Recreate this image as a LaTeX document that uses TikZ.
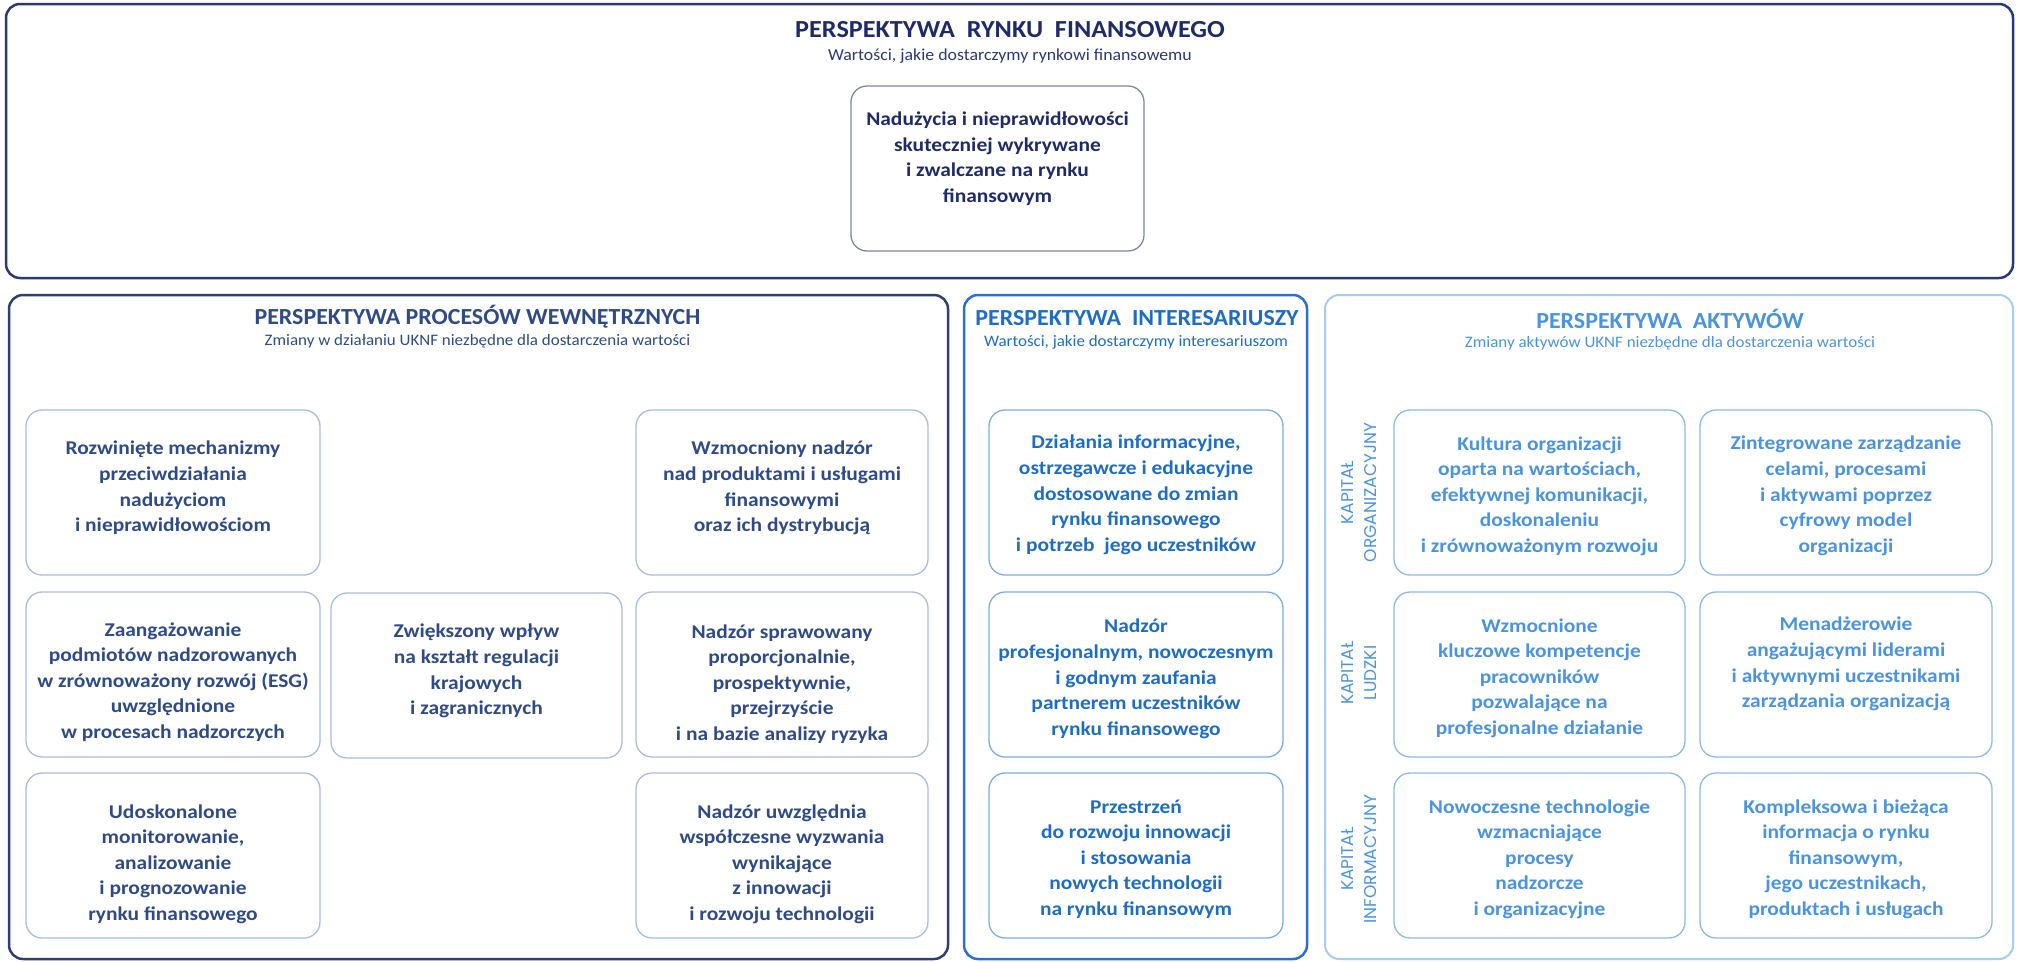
\documentclass[tikz,border=0pt]{standalone}
\usepackage{fontspec}
\setmainfont{Carlito}
\newfontfamily\boxfont{Carlito}[FakeStretch=1.1]
\newfontfamily\ttlfont{Carlito}[FakeStretch=1.04]
\newfontfamily\topttlfont{Carlito}[FakeStretch=1.07]
\newfontfamily\subfont{Carlito}[FakeStretch=1.06]
\newfontfamily\kapfont{Poppins}
\definecolor{navy}{HTML}{1F2A6B}
\definecolor{navyb}{HTML}{2B3878}
\definecolor{proc}{HTML}{2E4A88}
\definecolor{procb}{HTML}{2E3F70}
\definecolor{procl}{HTML}{A9BCDD}
\definecolor{intc}{HTML}{1E6DC4}
\definecolor{intb}{HTML}{2A6FD1}
\definecolor{intl}{HTML}{7EABE4}
\definecolor{akt}{HTML}{4A93E0}
\definecolor{aktb}{HTML}{A8CBF0}
\definecolor{aktl}{HTML}{8DB9EA}
\definecolor{topl}{HTML}{7B86A8}
\tikzset{
  section/.style={draw, rounded corners=14pt, line width=2.5pt},
  box/.style={draw, rounded corners=16pt, line width=1.3pt, inner sep=0pt, minimum height=165pt},
  btext/.style={align=center, inner sep=0pt, font=\boxfont\bfseries\fontsize{19.5}{25.6}\selectfont},
  ttl/.style={font=\ttlfont\bfseries\fontsize{23}{26}\selectfont, inner sep=0pt},
  sub/.style={font=\subfont\fontsize{16}{19}\selectfont, inner sep=0pt},
  kap/.style={font=\kapfont\fontsize{17}{23}\selectfont, rotate=90, align=center, inner sep=0pt, text=akt},
}
% \mkbox{name}{x}{y}{width}{border colour}{text colour}{text centre y}{text}
\newcommand\mkbox[8]{%
  \node[box, draw=#5, minimum width=#4pt] (#1) at (#2,#3) {};
  \node[btext, text=#6] (#1t) at (#2,#7) {#8};
}
\begin{document}
\begin{tikzpicture}[x=1pt,y=-1pt]
\useasboundingbox (0,0) rectangle (2020,961);
% top section
\node[section, draw=navyb, minimum width=2007pt, minimum height=274pt] (top) at (1009.5,141) {};
\node[ttl, font=\topttlfont\bfseries\fontsize{24.5}{28}\selectfont, text=navy] (toptitle) at (1010,30) {PERSPEKTYWA\ \ RYNKU\ \ FINANSOWEGO};
\node[sub, font=\subfont\fontsize{16.8}{19}\selectfont, text=navyb] (topsub) at (1010,56) {Wartości, jakie dostarczymy rynkowi finansowemu};
\mkbox{t1}{997.5}{168.5}{293}{topl}{navy}{158.5}{Nadużycia i nieprawidłowości\\skuteczniej wykrywane\\ i zwalczane na rynku\\finansowym}
% processes
\node[section, draw=procb, minimum width=939pt, minimum height=664pt] (proc) at (478.5,627) {};
\node[ttl, text=proc] (proctitle) at (477.5,317) {PERSPEKTYWA PROCESÓW WEWNĘTRZNYCH};
\node[sub, text=proc] (procsub) at (477.5,341) {Zmiany w działaniu UKNF niezbędne dla dostarczenia wartości};
\mkbox{p1}{173}{492.5}{294}{procl}{proc}{488}{Rozwinięte mechanizmy\\przeciwdziałania\\nadużyciom\\i nieprawidłowościom}
\mkbox{p2}{782}{492.5}{292}{procl}{proc}{488}{Wzmocniony nadzór\\nad produktami i usługami\\finansowymi\\oraz ich dystrybucją}
\mkbox{p3}{173}{674.5}{294}{procl}{proc}{682}{Zaangażowanie\\podmiotów nadzorowanych\\w zrównoważony rozwój (ESG)\\uwzględnione\\w procesach nadzorczych}
\mkbox{p4}{476.5}{675.5}{291}{procl}{proc}{671}{Zwiększony wpływ\\na kształt regulacji\\krajowych\\i zagranicznych}
\mkbox{p5}{782}{674.5}{292}{procl}{proc}{684}{Nadzór sprawowany\\proporcjonalnie,\\prospektywnie,\\przejrzyście\\i na bazie analizy ryzyka}
\mkbox{p6}{173}{855.5}{294}{procl}{proc}{864}{Udoskonalone\\monitorowanie,\\analizowanie\\i prognozowanie\\rynku finansowego}
\mkbox{p7}{782}{855.5}{292}{procl}{proc}{864}{Nadzór uwzględnia\\współczesne wyzwania\\wynikające\\z innowacji\\i rozwoju technologii}
% stakeholders
\node[section, draw=intb, minimum width=343pt, minimum height=664pt] (int) at (1135.5,627) {};
\node[ttl, text=intc] (inttitle) at (1137,318) {PERSPEKTYWA\ \ INTERESARIUSZY};
\node[sub, text=intc] (intsub) at (1136,342) {Wartości, jakie dostarczymy interesariuszom};
\mkbox{i1}{1136}{492.5}{294}{intl}{intc}{495}{Działania informacyjne,\\ostrzegawcze i edukacyjne\\dostosowane do zmian\\rynku finansowego\\i potrzeb\ \ jego uczestników}
\mkbox{i2}{1136}{674.5}{294}{intl}{intc}{679}{Nadzór\\profesjonalnym, nowoczesnym\\i godnym zaufania\\partnerem uczestników\\rynku finansowego}
\mkbox{i3}{1136}{855.5}{294}{intl}{intc}{859}{Przestrzeń\\do rozwoju innowacji\\i stosowania\\nowych technologii\\na rynku finansowym}
% assets
\node[section, draw=aktb, line width=2pt, minimum width=688pt, minimum height=664pt] (akt) at (1669,627) {};
\node[ttl, text=akt] (akttitle) at (1670,319) {PERSPEKTYWA\ \ AKTYWÓW};
\node[sub, text=akt] (aktsub) at (1670,343) {Zmiany aktywów UKNF niezbędne dla dostarczenia wartości};
\mkbox{a1}{1539.5}{492.5}{291}{aktl}{akt}{496}{Kultura organizacji\\oparta na wartościach,\\efektywnej komunikacji,\\doskonaleniu\\i zrównoważonym rozwoju}
\mkbox{a2}{1846}{492.5}{292}{aktl}{akt}{496}{Zintegrowane zarządzanie\\celami, procesami\\i aktywami poprzez\\cyfrowy model\\organizacji}
\mkbox{a3}{1539.5}{674.5}{291}{aktl}{akt}{678}{Wzmocnione\\kluczowe kompetencje\\pracowników\\pozwalające na\\profesjonalne działanie}
\mkbox{a4}{1846}{674.5}{292}{aktl}{akt}{664}{Menadżerowie\\angażującymi liderami\\i aktywnymi uczestnikami\\zarządzania organizacją}
\mkbox{a5}{1539.5}{855.5}{291}{aktl}{akt}{859}{Nowoczesne technologie\\wzmacniające\\procesy\\nadzorcze\\i organizacyjne}
\mkbox{a6}{1846}{855.5}{292}{aktl}{akt}{859}{Kompleksowa i bieżąca\\informacja o rynku\\finansowym,\\jego uczestnikach,\\produktach i usługach}
\node[kap] (k1) at (1359.5,492.5) {KAPITAŁ\\ORGANIZACYJNY};
\node[kap] (k2) at (1359.5,673) {KAPITAŁ\\LUDZKI};
\node[kap] (k3) at (1359.5,859) {KAPITAŁ\\INFORMACYJNY};
\end{tikzpicture}
\end{document}
